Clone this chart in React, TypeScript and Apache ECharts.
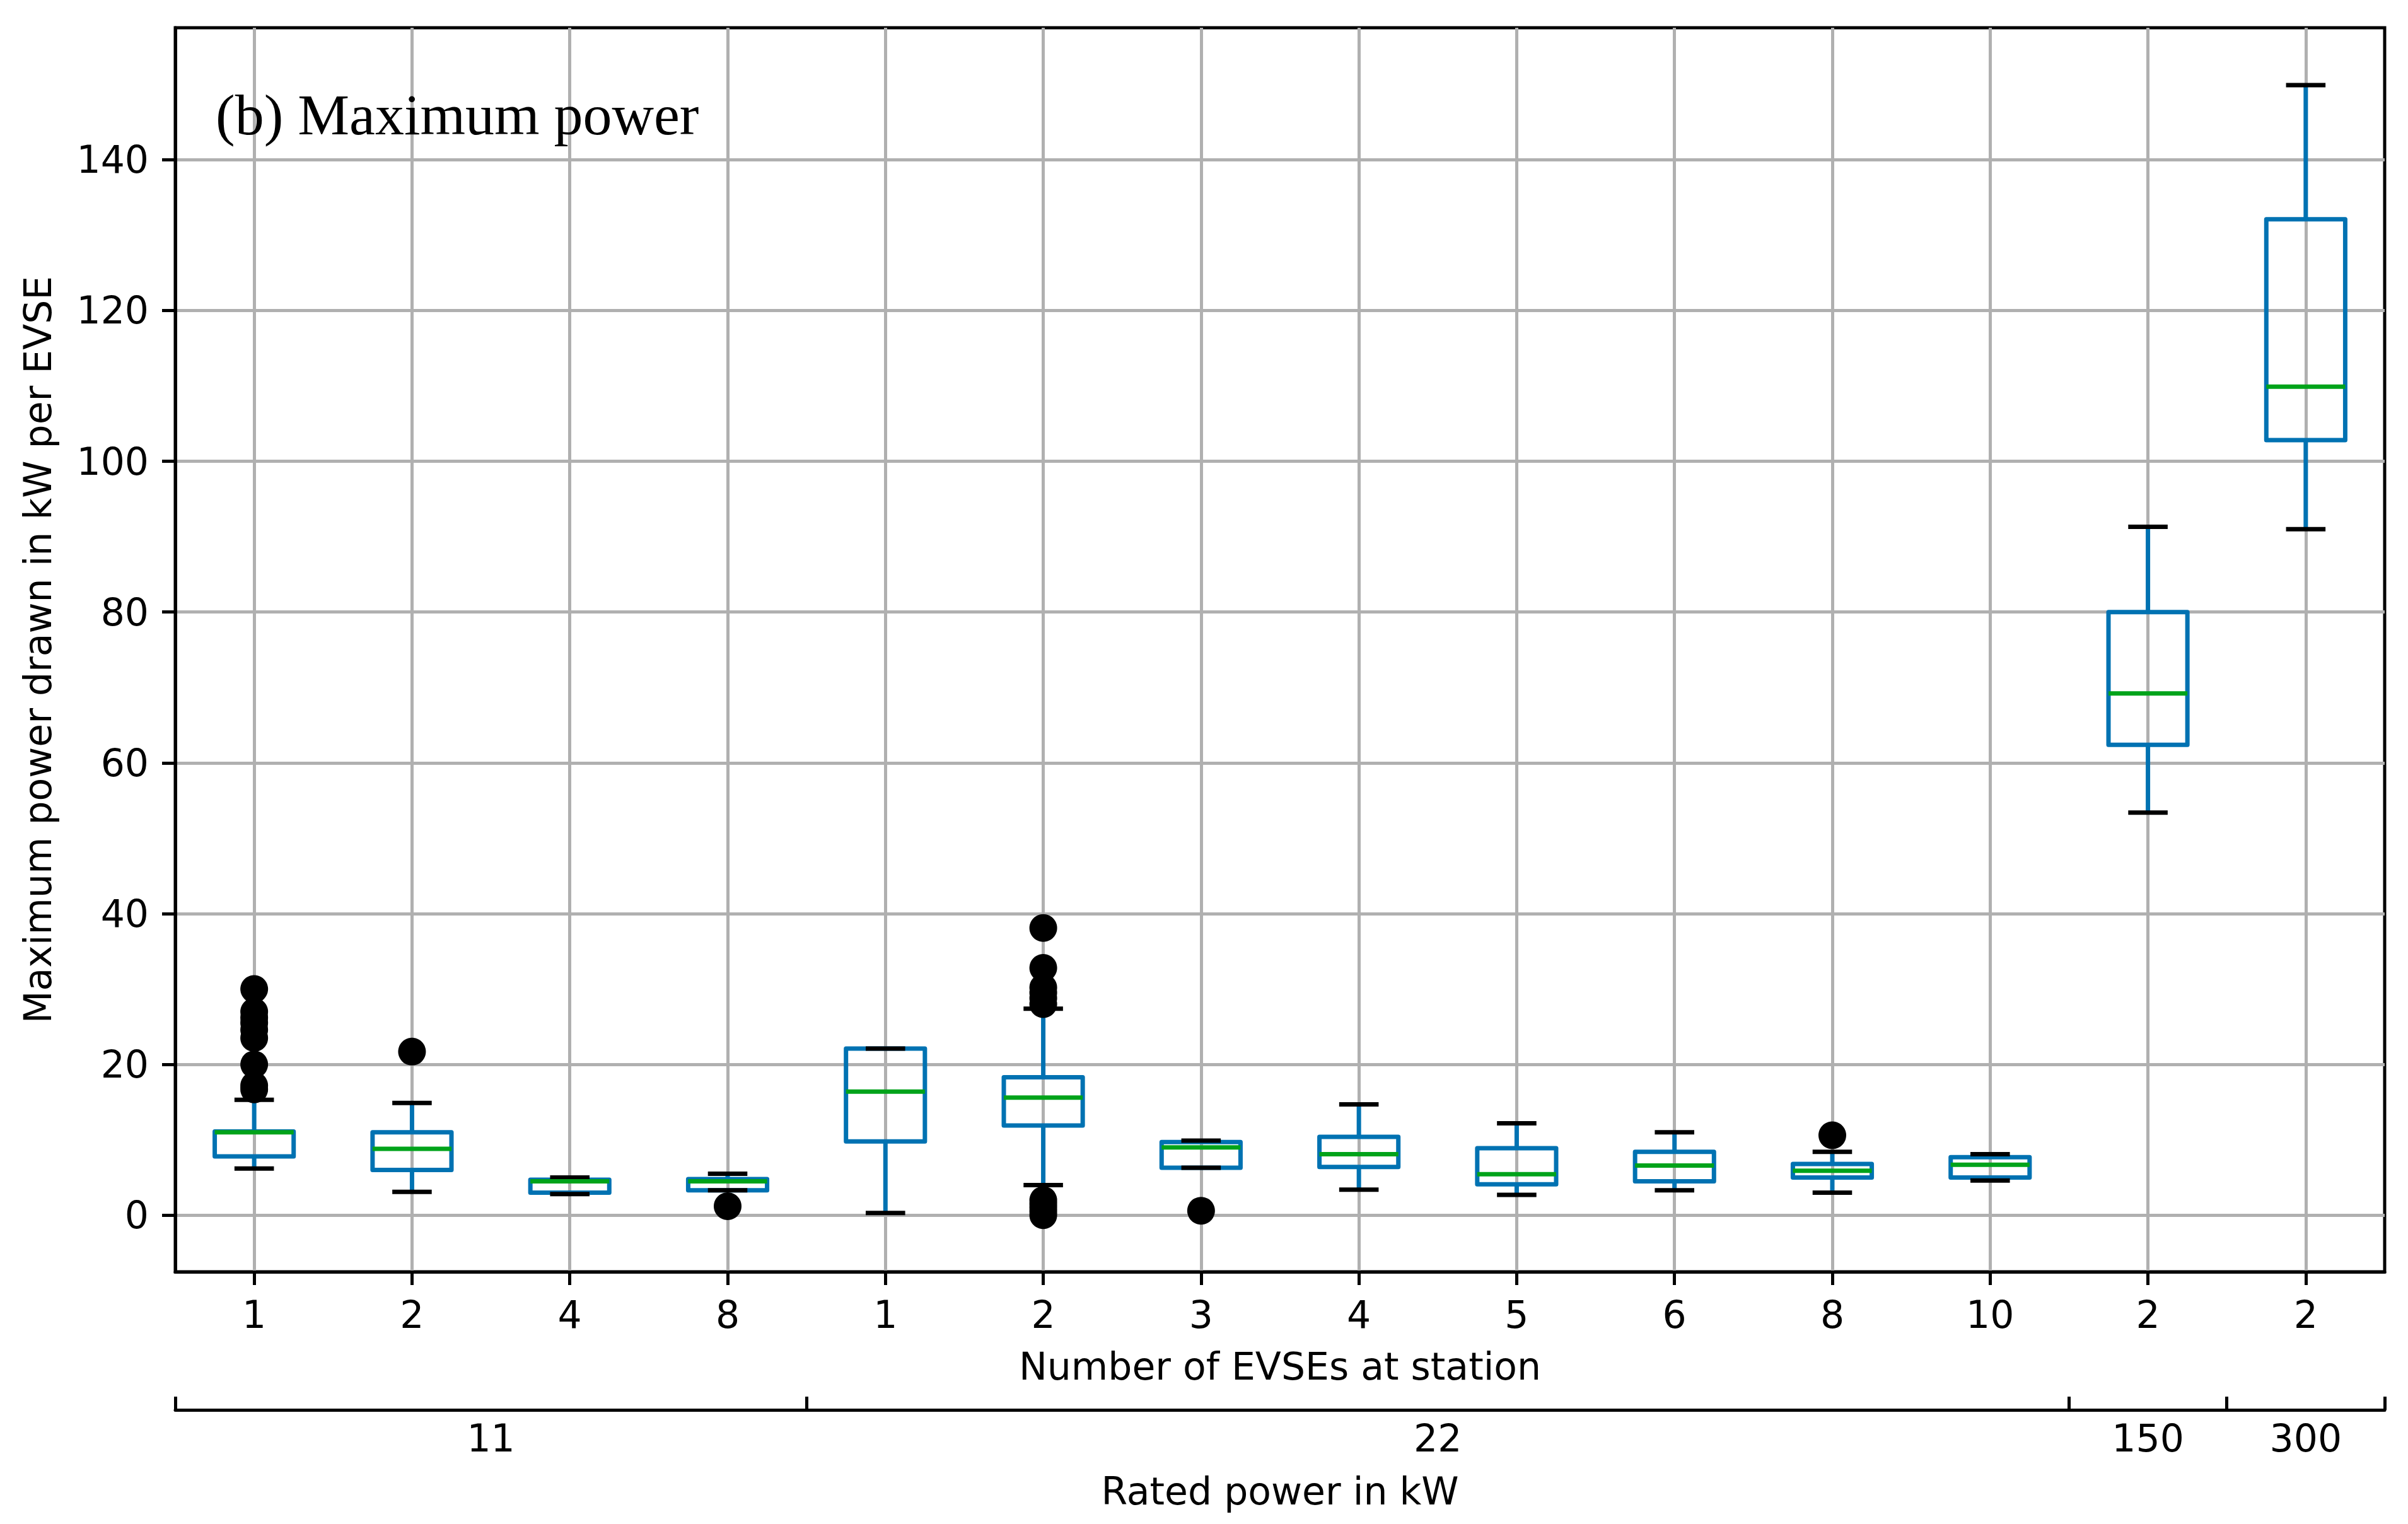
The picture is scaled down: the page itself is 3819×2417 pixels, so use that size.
import React, { useEffect, useRef } from 'react';
import * as echarts from 'echarts';

// ---------- data ----------
const evseCounts = ['1', '2', '4', '8', '1', '2', '3', '4', '5', '6', '8', '10', '2', '2'];
const ratedPowerLabels = ['11', '22', '150', '300'];
const groupSizes = [4, 8, 1, 1];

const whiskerLow = [6.2, 3.1, 2.8, 3.3, 0.3, 4.0, 6.3, 3.4, 2.7, 3.3, 3.0, 4.6, 53.4, 91.0];
const q1 = [7.8, 6.0, 3.0, 3.3, 9.8, 11.9, 6.3, 6.4, 4.1, 4.5, 5.0, 5.0, 62.4, 102.8];
const median = [11.0, 8.8, 4.5, 4.5, 16.4, 15.6, 9.0, 8.1, 5.45, 6.6, 5.9, 6.7, 69.2, 109.9];
const q3 = [11.1, 11.0, 4.7, 4.8, 22.1, 18.3, 9.7, 10.4, 8.9, 8.4, 6.8, 7.7, 80.0, 132.1];
const whiskerHigh = [15.3, 14.9, 5.0, 5.5, 22.1, 27.4, 9.9, 14.7, 12.2, 11.0, 8.4, 8.1, 91.3, 149.9];

const outliers: number[][] = [
  [30.0, 27.0, 26.2, 25.5, 24.6, 23.5, 20.0, 17.2, 16.7],
  [21.7],
  [],
  [1.2],
  [],
  [38.1, 32.8, 30.2, 29.5, 28.8, 28.0, 2.0, 1.5, 1.0, 0.5, 0.0],
  [0.6],
  [],
  [],
  [],
  [10.6],
  [],
  [],
  [],
];

const yTicks = [0, 20, 40, 60, 80, 100, 120, 140];
const yMin = -7.5;
const yMax = 157.5;
const panelTitle = '(b) Maximum power';
const xName = 'Number of EVSEs at station';
const x2Name = 'Rated power in kW';
const yName = 'Maximum power drawn in kW per EVSE';

// ---------- styles ----------
const BLUE = '#0072B2';
const GREEN = '#00A31A';
const FONT = 'DejaVu Sans';

export default function App() {
  const ref = useRef<HTMLDivElement>(null);

  useEffect(() => {
    if (!ref.current) return;
    const chart = echarts.init(ref.current, undefined, { renderer: 'svg' });

    const positions = evseCounts.map((_, i) => i + 1);
    const boxData = positions.map((p, i) => [p, whiskerLow[i], q1[i], median[i], q3[i], whiskerHigh[i]]);
    const outlierData: number[][] = [];
    outliers.forEach((arr, i) => arr.forEach((v) => outlierData.push([i + 1, v])));

    const boundaries: number[] = [0.5];
    groupSizes.forEach((s) => boundaries.push(boundaries[boundaries.length - 1] + s));
    const centers = groupSizes.map((_, i) => (boundaries[i] + boundaries[i + 1]) / 2);

    const axisLineStyle = { color: '#000', width: 5 };
    const labelStyle = { fontSize: 60, color: '#000', fontFamily: FONT };
    const nameStyle = { fontSize: 60, color: '#000', fontFamily: FONT };

    const option: any = {
      animation: false,
      backgroundColor: '#fff',
      grid: {
        left: 278,
        right: 37,
        top: 44,
        bottom: 400,
        show: true,
        borderColor: '#000',
        borderWidth: 5,
        backgroundColor: 'transparent',
        outerBoundsMode: 'none',
        containLabel: false,
      },
      xAxis: [
        {
          type: 'value',
          min: 0.5,
          max: 14.5,
          position: 'bottom',
          axisLine: { onZero: false, lineStyle: axisLineStyle },
          axisTick: { customValues: positions, length: 21, lineStyle: { color: '#000', width: 5 } },
          axisLabel: {
            customValues: positions,
            formatter: (v: number) => evseCounts[Math.round(v) - 1] ?? '',
            margin: 38,
            ...labelStyle,
          },
          splitLine: { show: true, lineStyle: { color: '#b0b0b0', width: 5 } },
          name: xName,
          nameLocation: 'middle',
          nameGap: 120,
          nameTextStyle: nameStyle,
        },
        {
          type: 'value',
          min: 0.5,
          max: 14.5,
          position: 'bottom',
          offset: 219,
          axisLine: { onZero: false, lineStyle: axisLineStyle },
          axisTick: { customValues: boundaries, inside: true, length: 21, lineStyle: { color: '#000', width: 5 } },
          axisLabel: {
            customValues: centers,
            formatter: (v: number) => {
              const idx = centers.findIndex((c) => Math.abs(c - v) < 1e-6);
              return idx >= 0 ? ratedPowerLabels[idx] : '';
            },
            margin: 15,
            ...labelStyle,
          },
          splitLine: { show: false },
          name: x2Name,
          nameLocation: 'middle',
          nameGap: 99,
          nameTextStyle: nameStyle,
        },
      ],
      yAxis: {
        type: 'value',
        min: yMin,
        max: yMax,
        axisLine: { onZero: false, lineStyle: axisLineStyle },
        axisTick: { customValues: yTicks, length: 21, lineStyle: { color: '#000', width: 5 } },
        axisLabel: { customValues: yTicks, margin: 42, ...labelStyle },
        splitLine: { show: true, lineStyle: { color: '#b0b0b0', width: 5 } },
        name: yName,
        nameLocation: 'middle',
        nameGap: 188,
        nameTextStyle: nameStyle,
      },
      graphic: [
        {
          type: 'text',
          left: 342,
          top: 136,
          z: 100,
          style: {
            text: panelTitle,
            font: '92px "Liberation Serif"',
            fill: '#000',
          },
        },
      ],
      series: [
        {
          type: 'custom',
          xAxisIndex: 0,
          yAxisIndex: 0,
          data: boxData,
          encode: { x: 0, y: [1, 2, 3, 4, 5] },
          z: 5,
          renderItem: (_params: any, api: any) => {
            const x = api.value(0);
            const lo = api.value(1);
            const a = api.value(2);
            const m = api.value(3);
            const b = api.value(4);
            const hi = api.value(5);
            const bl = api.coord([x - 0.25, a]);
            const tr = api.coord([x + 0.25, b]);
            const cLo = api.coord([x, lo]);
            const cHi = api.coord([x, hi]);
            const cA = api.coord([x, a]);
            const cB = api.coord([x, b]);
            const mL = api.coord([x - 0.25, m]);
            const mR = api.coord([x + 0.25, m]);
            const capL = api.coord([x - 0.125, lo])[0];
            const capR = api.coord([x + 0.125, lo])[0];
            const lw = 7;
            return {
              type: 'group',
              children: [
                {
                  type: 'rect',
                  shape: { x: bl[0], y: tr[1], width: tr[0] - bl[0], height: bl[1] - tr[1] },
                  style: { fill: 'none', stroke: BLUE, lineWidth: lw, lineJoin: 'round' },
                },
                {
                  type: 'line',
                  shape: { x1: cLo[0], y1: cLo[1], x2: cA[0], y2: cA[1] },
                  style: { stroke: BLUE, lineWidth: lw },
                },
                {
                  type: 'line',
                  shape: { x1: cB[0], y1: cB[1], x2: cHi[0], y2: cHi[1] },
                  style: { stroke: BLUE, lineWidth: lw },
                },
                {
                  type: 'line',
                  shape: { x1: capL, y1: cLo[1], x2: capR, y2: cLo[1] },
                  style: { stroke: '#000', lineWidth: lw },
                },
                {
                  type: 'line',
                  shape: { x1: capL, y1: cHi[1], x2: capR, y2: cHi[1] },
                  style: { stroke: '#000', lineWidth: lw },
                },
                {
                  type: 'line',
                  shape: { x1: mL[0], y1: mL[1], x2: mR[0], y2: mR[1] },
                  style: { stroke: GREEN, lineWidth: lw },
                },
              ],
            };
          },
        },
        {
          type: 'scatter',
          xAxisIndex: 0,
          yAxisIndex: 0,
          data: outlierData,
          symbol: 'circle',
          symbolSize: 44,
          itemStyle: { color: '#000', opacity: 1 },
          z: 6,
        },
      ],
    };

    chart.setOption(option);
    return () => chart.dispose();
  }, []);

  return (
    <div
      ref={ref}
      style={{ position: 'absolute', left: 0, top: 0, width: 3819, height: 2417 }}
    />
  );
}
